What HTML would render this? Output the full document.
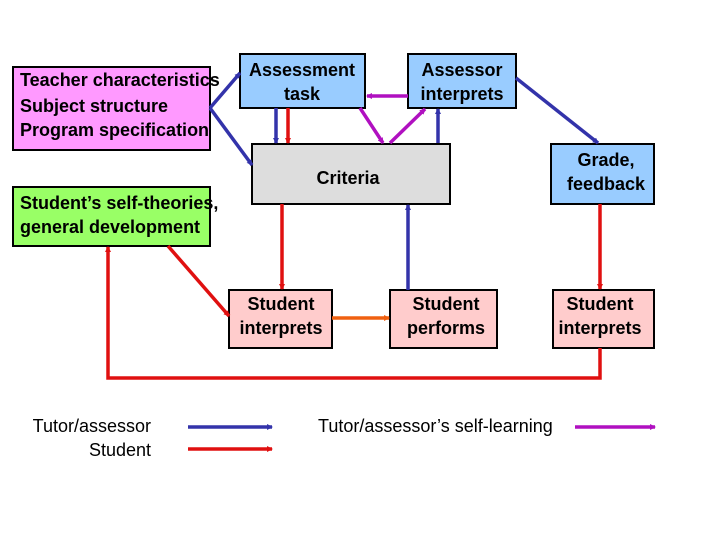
<!DOCTYPE html>
<html><head><meta charset="utf-8"><style>
body{margin:0;width:720px;height:540px;background:#fff;overflow:hidden}
svg text{font-family:"Liberation Sans",Arial,sans-serif}
</style></head><body>
<svg width="720" height="540" viewBox="0 0 720 540" xmlns="http://www.w3.org/2000/svg">
<defs>
<marker id="b" markerWidth="6" markerHeight="6" refX="5" refY="3" orient="auto" markerUnits="userSpaceOnUse"><path d="M0,0L6,3L0,6z" fill="#3333aa"/></marker>
<marker id="r" markerWidth="6" markerHeight="6" refX="5" refY="3" orient="auto" markerUnits="userSpaceOnUse"><path d="M0,0L6,3L0,6z" fill="#e01010"/></marker>
<marker id="m" markerWidth="6" markerHeight="6" refX="5" refY="3" orient="auto" markerUnits="userSpaceOnUse"><path d="M0,0L6,3L0,6z" fill="#b010c0"/></marker>
<marker id="o" markerWidth="6" markerHeight="6" refX="5" refY="3" orient="auto" markerUnits="userSpaceOnUse"><path d="M0,0L6,3L0,6z" fill="#f06010"/></marker>
</defs>
<g stroke="#000" stroke-width="2">
<rect x="13" y="67" width="197" height="83" fill="#ff99ff"/>
<rect x="240" y="54" width="125" height="54" fill="#99ccff"/>
<rect x="408" y="54" width="108" height="54" fill="#99ccff"/>
<rect x="252" y="144" width="198" height="60" fill="#dddddd"/>
<rect x="13" y="187" width="197" height="59" fill="#99ff66"/>
<rect x="551" y="144" width="103" height="60" fill="#99ccff"/>
<rect x="229" y="290" width="103" height="58" fill="#ffcccc"/>
<rect x="390" y="290" width="107" height="58" fill="#ffcccc"/>
<rect x="553" y="290" width="101" height="58" fill="#ffcccc"/>
</g>
<g fill="none" stroke-width="3.5">
<path d="M210,108L240,73" stroke="#3333aa" marker-end="url(#b)"/>
<path d="M210,108L252,165" stroke="#3333aa" marker-end="url(#b)"/>
<path d="M276,108L276,143" stroke="#3333aa" marker-end="url(#b)"/>
<path d="M288,108L288,143" stroke="#e01010" marker-end="url(#r)"/>
<path d="M408,96L367,96" stroke="#b010c0" marker-end="url(#m)"/>
<path d="M360,108L383,143" stroke="#b010c0" marker-end="url(#m)"/>
<path d="M390,143L425,109" stroke="#b010c0" marker-end="url(#m)"/>
<path d="M438,143L438,109" stroke="#3333aa" marker-end="url(#b)"/>
<path d="M516,78L598,143" stroke="#3333aa" marker-end="url(#b)"/>
<path d="M408,290L408,205" stroke="#3333aa" marker-end="url(#b)"/>
<path d="M282,204L282,289" stroke="#e01010" marker-end="url(#r)"/>
<path d="M600,204L600,289" stroke="#e01010" marker-end="url(#r)"/>
<path d="M168,246L229,316" stroke="#e01010" marker-end="url(#r)"/>
<path d="M332,318L389,318" stroke="#f06010" marker-end="url(#o)"/>
<path d="M600,348L600,378L108,378L108,247" stroke="#e01010" marker-end="url(#r)"/>
<path d="M188,427L272,427" stroke="#3333aa" marker-end="url(#b)"/>
<path d="M188,449L272,449" stroke="#e01010" marker-end="url(#r)"/>
<path d="M575,427L655,427" stroke="#b010c0" marker-end="url(#m)"/>
</g>
<g font-size="18" font-weight="bold" fill="#000">
<text x="20" y="86">Teacher characteristics</text>
<text x="20" y="112">Subject structure</text>
<text x="20" y="136">Program specification</text>
<text x="302" y="76" text-anchor="middle">Assessment</text>
<text x="302" y="100" text-anchor="middle">task</text>
<text x="462" y="76" text-anchor="middle">Assessor</text>
<text x="462" y="100" text-anchor="middle">interprets</text>
<text x="348" y="184" text-anchor="middle">Criteria</text>
<text x="20" y="209">Student’s self-theories,</text>
<text x="20" y="233">general development</text>
<text x="606" y="166" text-anchor="middle">Grade,</text>
<text x="606" y="190" text-anchor="middle">feedback</text>
<text x="281" y="310" text-anchor="middle">Student</text>
<text x="281" y="334" text-anchor="middle">interprets</text>
<text x="446" y="310" text-anchor="middle">Student</text>
<text x="446" y="334" text-anchor="middle">performs</text>
<text x="600" y="310" text-anchor="middle">Student</text>
<text x="600" y="334" text-anchor="middle">interprets</text>
</g>
<g font-size="18" fill="#000">
<text x="151" y="432" text-anchor="end">Tutor/assessor</text>
<text x="151" y="456" text-anchor="end">Student</text>
<text x="318" y="432">Tutor/assessor’s self-learning</text>
</g>
</svg>
</body></html>
